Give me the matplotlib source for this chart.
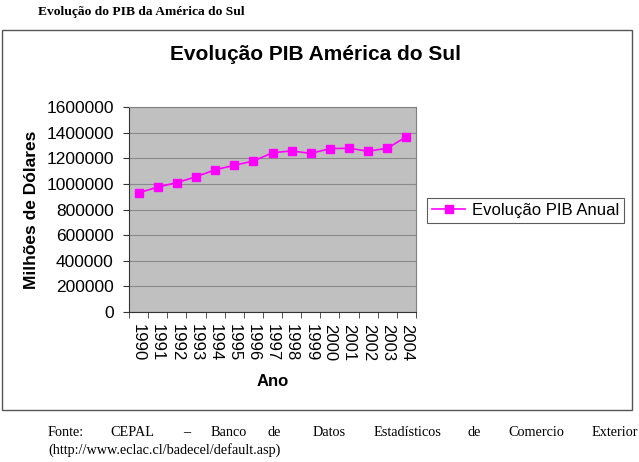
import matplotlib
matplotlib.use("Agg")
import matplotlib.pyplot as plt
from matplotlib.patches import Rectangle
import numpy as np

years = ["1990", "1991", "1992", "1993", "1994", "1995", "1996", "1997",
         "1998", "1999", "2000", "2001", "2002", "2003", "2004"]
pib = [930000, 975000, 1010000, 1055000, 1110000, 1145000, 1178000, 1243000,
       1257000, 1238000, 1275000, 1278000, 1255000, 1278000, 1368000]
yticks = [0, 200000, 400000, 600000, 800000, 1000000, 1200000, 1400000, 1600000]

W, H = 639, 462
fig = plt.figure(figsize=(W / 100, H / 100), dpi=100)
fig.patch.set_facecolor("white")

def fx(px):
    return px / W

def fy(py):
    return 1 - py / H

sans = "Liberation Sans"
serif = "Liberation Serif"

# outer chart frame
fig.patches.append(Rectangle((fx(2), fy(410)), fx(632) - fx(2), fy(30) - fy(410),
                             transform=fig.transFigure, fill=False,
                             edgecolor="#555555", linewidth=1.0))

# header
fig.text(fx(38), fy(12), "Evolução do PIB da América do Sul", family=serif,
         fontweight="bold", fontsize=9.7, va="center", ha="left")

# chart title
fig.text(fx(316), fy(55), "Evolução PIB América do Sul", family=sans,
         fontweight="bold", fontsize=15, va="center", ha="center")

# axes
l, r, t, b = 129, 416, 107, 312
ax = fig.add_axes([fx(l), fy(b), fx(r) - fx(l), fy(t) - fy(b)])
ax.set_facecolor("#C0C0C0")
x = np.arange(len(years))
ax.plot(x, pib, color="#FF00FF", linewidth=1.2, marker="s", markersize=5.5,
        label="Evolução PIB Anual")
ax.set_xlim(-0.5, len(years) - 0.5)
ax.set_ylim(0, 1600000)
ax.set_yticks(yticks)
ax.set_yticklabels([str(v) for v in yticks], family=sans, fontsize=12.5)
ax.yaxis.grid(True, color="#8A8A8A", linewidth=0.8)
ax.set_axisbelow(True)
ax.set_xticks(x)
ax.set_xticklabels(years, rotation=-90, family=sans, fontsize=12)
ax.tick_params(axis="x", which="major", length=0, pad=9)
ax.set_xticks(np.arange(-0.5, len(years)), minor=True)
ax.tick_params(axis="x", which="minor", length=4, direction="out", color="#333333")
ax.tick_params(axis="y", length=4, direction="out", color="#333333", pad=7)
for name, sp in ax.spines.items():
    sp.set_color("#808080")
    sp.set_linewidth(0.8)
ax.spines["left"].set_color("#333333")
ax.spines["bottom"].set_color("#333333")

ax.set_xlabel("Ano", family=sans, fontweight="bold", fontsize=12, labelpad=9)
ax.set_ylabel("Milhões de Dólares", family=sans, fontweight="bold", fontsize=12.5,
              labelpad=5)

leg = fig.legend(loc="center left", bbox_to_anchor=(fx(427), fy(210)),
                 prop={"family": sans, "size": 12}, frameon=True,
                 fancybox=False, edgecolor="#333333", borderpad=0.3,
                 handlelength=2.0, handletextpad=0.4, borderaxespad=0)
leg.get_frame().set_linewidth(0.8)

# footer (justified first line)
words = ["Fonte:", "CEPAL", "–", "Banco", "de", "Datos", "Estadísticos", "de",
         "Comercio", "Exterior"]
xs = [48, 110, 183, 211, 267, 313, 374, 467, 508, 592]
for w_, xp in zip(words, xs):
    fig.text(fx(xp), fy(433), w_, family=serif, fontsize=10.3, va="center", ha="left")
fig.text(fx(48), fy(450), "(http://www.eclac.cl/badecel/default.asp)", family=serif,
         fontsize=10.3, va="center", ha="left")

fig.savefig("out.png", dpi=100, facecolor="white")
